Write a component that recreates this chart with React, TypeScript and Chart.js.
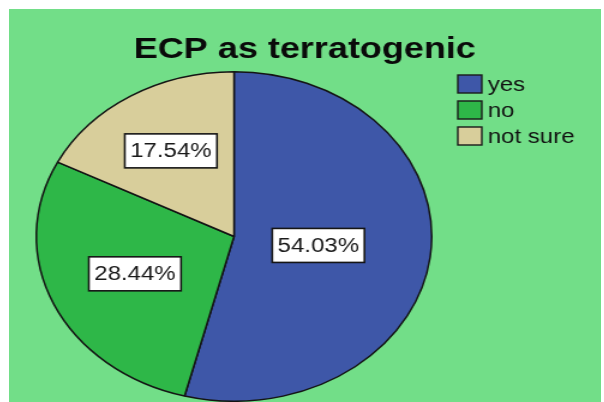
import React, { useEffect, useRef } from "react";
import { Chart, registerables } from "chart.js";

Chart.register(...registerables);

const categories = ["yes", "no", "not sure"];
const percentages = [54.03, 28.44, 17.54];
const sliceColors = ["#3E57A8", "#2EB748", "#D8CE9B"];
const titleText = "ECP as terratogenic";
const labelRadius = [0.43, 0.55, 0.61];

const FONT = "'Liberation Sans', Arial, Helvetica, sans-serif";
const BG = "#72DE88";
const STRETCH = 1.2;
const W = 493;
const H = 393;

const overlay = {
  id: "overlay",
  afterDatasetsDraw(chart: any) {
    const ctx = chart.ctx as CanvasRenderingContext2D;
    const meta = chart.getDatasetMeta(0);
    ctx.save();

    // title
    ctx.font = `bold 30px ${FONT}`;
    ctx.textAlign = "center";
    ctx.textBaseline = "middle";
    ctx.fillStyle = "#0a0a0a";
    ctx.fillText(titleText, chart.width / 2, 41);

    ctx.font = `20px ${FONT}`;
    meta.data.forEach((arc: any, i: number) => {
      const p = arc.getProps(["x", "y", "startAngle", "endAngle", "outerRadius"], true);
      const mid = (p.startAngle + p.endAngle) / 2;
      const r = p.outerRadius * labelRadius[i];
      const cx = p.x + Math.cos(mid) * r;
      const cy = p.y + Math.sin(mid) * r;
      const text = percentages[i].toFixed(2) + "%";
      const w = ctx.measureText(text).width + 9;
      const h = 34;
      ctx.fillStyle = "#ffffff";
      ctx.fillRect(cx - w / 2, cy - h / 2, w, h);
      ctx.strokeStyle = "#151515";
      ctx.lineWidth = 1.6;
      ctx.strokeRect(cx - w / 2, cy - h / 2, w, h);
      ctx.fillStyle = "#1a1a1a";
      ctx.fillText(text, cx, cy + 1);
    });

    // legend
    const lx = 374;
    const ly = 75;
    const step = 26;
    ctx.textAlign = "left";
    categories.forEach((c, i) => {
      const y = ly + i * step;
      ctx.fillStyle = sliceColors[i];
      ctx.fillRect(lx, y - 9, 20, 18);
      ctx.strokeStyle = "#1a1a1a";
      ctx.lineWidth = 1.4;
      ctx.strokeRect(lx, y - 9, 20, 18);
      ctx.fillStyle = "#111";
      ctx.fillText(c, lx + 25, y + 1);
    });
    ctx.restore();
  },
};

export default function App() {
  const ref = useRef<HTMLCanvasElement | null>(null);

  useEffect(() => {
    if (!ref.current) return;
    const chart = new Chart(ref.current, {
      type: "pie",
      data: {
        labels: categories,
        datasets: [
          {
            data: percentages,
            backgroundColor: sliceColors,
            borderColor: "#141414",
            borderWidth: 1.5,
          },
        ],
      },
      options: {
        responsive: false,
        animation: false,
        devicePixelRatio: 1,
        layout: { padding: { left: 20, right: 138, top: 62, bottom: 0 } },
        plugins: {
          legend: { display: false },
          tooltip: { enabled: false },
          title: { display: false },
        },
      },
      plugins: [overlay],
    });
    return () => chart.destroy();
  }, []);

  return (
    <div
      style={{
        position: "fixed",
        left: 9,
        top: 9,
        width: Math.round(W * STRETCH),
        height: H,
        overflow: "hidden",
        background: BG,
      }}
    >
      <div
        style={{
          width: W,
          height: H,
          transform: `scaleX(${STRETCH})`,
          transformOrigin: "0 0",
        }}
      >
        <canvas ref={ref} width={W} height={H} style={{ display: "block" }} />
      </div>
    </div>
  );
}
